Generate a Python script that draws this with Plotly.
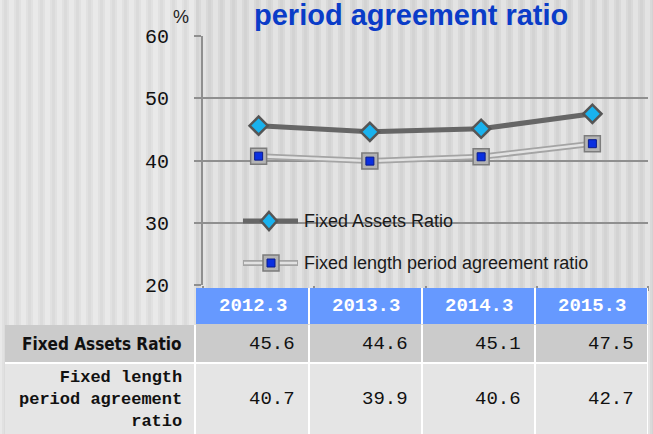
import plotly.graph_objects as go

# ---------------- data ----------------
categories = ["2012.3", "2013.3", "2014.3", "2015.3"]
fixed_assets_ratio = [45.6, 44.6, 45.1, 47.5]
fixed_length_ratio = [40.7, 39.9, 40.6, 42.7]
series_names = ["Fixed Assets Ratio", "Fixed length period agreement ratio"]
table_row_labels = ["Fixed Assets Ratio", "Fixed length<br>period agreement<br>ratio"]
y_ticks = [20, 30, 40, 50, 60]
title_text = "period agreement ratio"
unit_text = "%"

# ---------------- geometry helpers (pixel -> paper) ----------------
W, H = 653, 434
def X(px):
    return px / W
def Y(py):
    return 1 - py / H

PL, PR, PT, PB = 203, 648, 36, 285  # plot area in pixels

fig = go.Figure()

# series 2 : double line (outer gray + inner light) then markers
fig.add_trace(go.Scatter(x=categories, y=fixed_length_ratio, mode="lines",
                         line=dict(color="#a4a4a4", width=6), showlegend=False,
                         hoverinfo="skip"))
fig.add_trace(go.Scatter(x=categories, y=fixed_length_ratio, mode="lines",
                         line=dict(color="#e2e2e2", width=2.5), showlegend=False,
                         hoverinfo="skip"))
fig.add_trace(go.Scatter(x=categories, y=fixed_length_ratio, mode="markers",
                         marker=dict(symbol="square", size=16, color="#b3b3b3",
                                     line=dict(color="#7c7c7c", width=1.5)),
                         name=series_names[1], showlegend=False))
fig.add_trace(go.Scatter(x=categories, y=fixed_length_ratio, mode="markers",
                         marker=dict(symbol="square", size=8, color="#0a2fe0",
                                     line=dict(color="#0a1a8a", width=1)),
                         showlegend=False, hoverinfo="skip"))
# series 1
fig.add_trace(go.Scatter(x=categories, y=fixed_assets_ratio, mode="lines+markers",
                         line=dict(color="#666666", width=5),
                         marker=dict(symbol="diamond", size=14, color="#19b2ee",
                                     line=dict(color="#555555", width=2.5)),
                         name=series_names[0], showlegend=False))

shapes = []
# background stripes (decoration)
shapes.append(dict(type="rect", xref="paper", yref="paper", x0=0, x1=X(196),
                   y0=0, y1=1, fillcolor="rgba(255,255,255,0.22)", line_width=0,
                   layer="below"))
for i in range(-3, W, 12):
    shapes.append(dict(type="rect", xref="paper", yref="paper", x0=X(i), x1=X(i + 5),
                       y0=0, y1=1, fillcolor="rgba(255,255,255,0.28)", line_width=0,
                       layer="below"))
    shapes.append(dict(type="rect", xref="paper", yref="paper", x0=X(i + 7), x1=X(i + 10),
                       y0=0, y1=1, fillcolor="rgba(0,0,0,0.025)", line_width=0,
                       layer="below"))

# ---------------- legend (manual) ----------------
leg_y1, leg_y2 = 221, 263
shapes.append(dict(type="line", xref="paper", yref="paper", x0=X(243), x1=X(298),
                   y0=Y(leg_y1), y1=Y(leg_y1), line=dict(color="#666666", width=5)))
shapes.append(dict(type="path", xref="paper", yref="paper", xsizemode="pixel",
                   ysizemode="pixel", xanchor=X(269), yanchor=Y(leg_y1),
                   path="M0,9 L8,0 L0,-9 L-8,0 Z", fillcolor="#19b2ee",
                   line=dict(color="#555555", width=2.5)))
shapes.append(dict(type="line", xref="paper", yref="paper", x0=X(243), x1=X(298),
                   y0=Y(leg_y2), y1=Y(leg_y2), line=dict(color="#a4a4a4", width=6)))
shapes.append(dict(type="line", xref="paper", yref="paper", x0=X(244), x1=X(297),
                   y0=Y(leg_y2), y1=Y(leg_y2), line=dict(color="#e2e2e2", width=2.5)))
shapes.append(dict(type="rect", xref="paper", yref="paper", x0=X(263), x1=X(279),
                   y0=Y(leg_y2 + 8), y1=Y(leg_y2 - 8), fillcolor="#b3b3b3",
                   line=dict(color="#7c7c7c", width=1.5)))
shapes.append(dict(type="rect", xref="paper", yref="paper", x0=X(267), x1=X(275),
                   y0=Y(leg_y2 + 4), y1=Y(leg_y2 - 4), fillcolor="#0a2fe0",
                   line=dict(color="#0a1a8a", width=1)))

annotations = []
annotations.append(dict(x=X(302), y=Y(leg_y1), xref="paper", yref="paper",
                        text=series_names[0], showarrow=False, xanchor="left",
                        yanchor="middle",
                        font=dict(family="Liberation Sans", size=18, color="#1a1a1a")))
annotations.append(dict(x=X(302), y=Y(leg_y2), xref="paper", yref="paper",
                        text=series_names[1], showarrow=False, xanchor="left",
                        yanchor="middle",
                        font=dict(family="Liberation Sans", size=18, color="#1a1a1a")))

# title and unit
annotations.append(dict(x=X(411), y=Y(15), xref="paper", yref="paper", text=title_text,
                        showarrow=False, xanchor="center", yanchor="middle",
                        font=dict(family="Liberation Sans", size=29, color="#0a3cc8",
                                  weight="bold")))
annotations.append(dict(x=X(181), y=Y(17), xref="paper", yref="paper", text=unit_text,
                        showarrow=False, xanchor="center", yanchor="middle",
                        font=dict(family="Liberation Sans", size=18, color="#222222")))

# ---------------- table ----------------
col_edges = [196, 309, 422, 535, 648]
label_x0, label_x1 = 5, 194
hdr_top, hdr_bot = 288, 324
r1_top, r1_bot = 325, 362
r2_top, r2_bot = 364, 440

# white underlay
shapes.append(dict(type="rect", xref="paper", yref="paper", x0=X(196), x1=X(648),
                   y0=Y(hdr_bot), y1=Y(hdr_top), fillcolor="#ffffff", line_width=0))
shapes.append(dict(type="rect", xref="paper", yref="paper", x0=X(label_x0), x1=X(648),
                   y0=Y(r2_bot), y1=Y(r1_top), fillcolor="#ffffff", line_width=0))
for i in range(4):
    a, b = col_edges[i] + (0 if i == 0 else 1), col_edges[i + 1] - 1
    shapes.append(dict(type="rect", xref="paper", yref="paper", x0=X(a), x1=X(b),
                       y0=Y(hdr_bot + 1), y1=Y(hdr_top), fillcolor="#6699ff", line_width=0))
    shapes.append(dict(type="rect", xref="paper", yref="paper", x0=X(a), x1=X(b),
                       y0=Y(r1_bot), y1=Y(r1_top - 1), fillcolor="#cbcbcb", line_width=0))
    shapes.append(dict(type="rect", xref="paper", yref="paper", x0=X(a), x1=X(b),
                       y0=Y(r2_bot), y1=Y(r2_top), fillcolor="#e5e5e5", line_width=0))
shapes.append(dict(type="rect", xref="paper", yref="paper", x0=X(label_x0), x1=X(label_x1),
                   y0=Y(r1_bot), y1=Y(r1_top), fillcolor="#cbcbcb", line_width=0))
shapes.append(dict(type="rect", xref="paper", yref="paper", x0=X(label_x0), x1=X(label_x1),
                   y0=Y(r2_bot), y1=Y(r2_top), fillcolor="#e5e5e5", line_width=0))

mono = "Liberation Mono"
r1_mid = (r1_top + r1_bot) / 2
r2_mid = (r2_top + 434) / 2
for i, cat in enumerate(categories):
    cx = (col_edges[i] + col_edges[i + 1]) / 2
    annotations.append(dict(x=X(cx), y=Y((hdr_top + hdr_bot) / 2), xref="paper",
                            yref="paper", text=cat, showarrow=False, xanchor="center",
                            yanchor="middle",
                            font=dict(family=mono, size=19, color="#ffffff", weight="bold")))
    rx = col_edges[i + 1] - 12
    annotations.append(dict(x=X(rx), y=Y(r1_mid), xref="paper", yref="paper",
                            text=f"{fixed_assets_ratio[i]:.1f}", showarrow=False,
                            xanchor="right", yanchor="middle",
                            font=dict(family=mono, size=19, color="#111111")))
    annotations.append(dict(x=X(rx), y=Y(r2_mid), xref="paper", yref="paper",
                            text=f"{fixed_length_ratio[i]:.1f}", showarrow=False,
                            xanchor="right", yanchor="middle",
                            font=dict(family=mono, size=19, color="#111111")))

annotations.append(dict(x=X(184), y=Y(r1_mid), xref="paper", yref="paper",
                        text=table_row_labels[0], showarrow=False, xanchor="right",
                        yanchor="middle",
                        font=dict(family="DejaVu Sans Condensed", size=17, color="#111111",
                                  weight="bold")))
annotations.append(dict(x=X(184), y=Y(r2_mid), xref="paper", yref="paper",
                        text=table_row_labels[1], showarrow=False, xanchor="right",
                        yanchor="middle", align="right",
                        font=dict(family=mono, size=17, color="#111111", weight="bold")))

fig.update_layout(
    template="none",
    width=W, height=H,
    margin=dict(l=0, r=0, t=0, b=0),
    paper_bgcolor="#d9d9d9",
    plot_bgcolor="rgba(0,0,0,0)",
    showlegend=False,
    shapes=shapes,
    annotations=annotations,
    xaxis=dict(domain=[X(PL), X(PR)], type="category", range=[-0.5, 3.5],
               showticklabels=False, showgrid=False, zeroline=False,
               showline=False, ticks="outside", tickson="boundaries", ticklen=5,
               tickcolor="#8f8f8f", tickwidth=2, automargin=False),
    yaxis=dict(domain=[Y(PB), Y(PT)], range=[20, 60], tickvals=y_ticks,
               showgrid=True, gridcolor="#8f8f8f", gridwidth=2, zeroline=False,
               showline=True, linecolor="#8f8f8f", linewidth=2,
               ticks="outside", ticklen=7, tickcolor="#8f8f8f", tickwidth=2,
               ticklabelstandoff=21, automargin=False,
               tickfont=dict(family=mono, size=20, color="#111111")),
)

fig.write_html(
    "out.html",
    config={"displayModeBar": False},
    post_script="document.body.style.margin='0';document.body.style.overflow='hidden';",
)
